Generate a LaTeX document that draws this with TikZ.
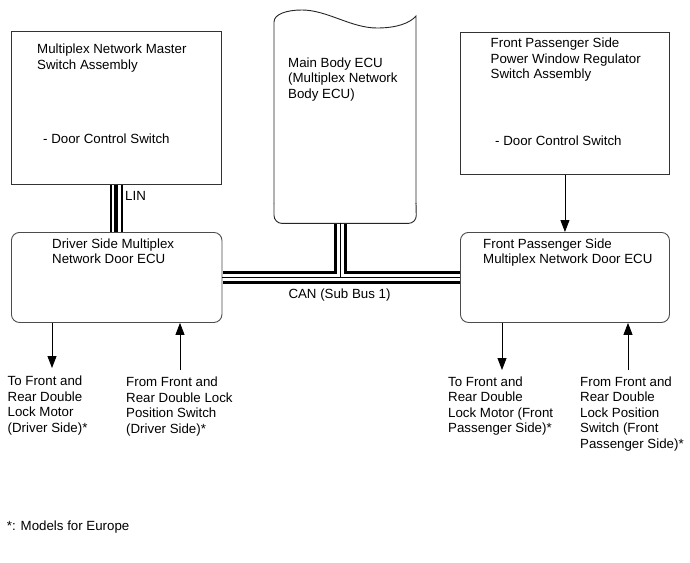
\documentclass[tikz,border=0pt]{standalone}
\usepackage{fontspec}
\setmainfont{Liberation Sans}
\usetikzlibrary{arrows.meta}
\begin{document}
\begin{tikzpicture}[x=1pt,y=-1pt,
  box/.style={draw=black!80, line width=0.9pt, rectangle, inner sep=0pt, anchor=north west},
  ecu/.style={box, draw=black!70, rounded corners=8pt},
  txt/.style={anchor=north west, inner sep=0pt, align=left, font=\fontsize{13.3}{15.5}\selectfont},
  arr/.style={draw=black, line width=0.9pt, -{Triangle[length=12pt,width=9pt]}},
  busouter/.style={line width=13pt, black, shorten <=0.5pt, shorten >=0.5pt},
  businner/.style={line width=7pt, white, shorten <=0.5pt, shorten >=0.5pt},
  buscore/.style={line width=1pt, black},
  linouter/.style={line width=12.5pt, black, shorten <=0.5pt, shorten >=0.5pt},
  lininner/.style={line width=9pt, white, shorten <=0.5pt, shorten >=0.5pt},
  lincore/.style={line width=4pt, black},
]
\useasboundingbox[fill=white] (0,0) rectangle (690,562);

% boxes
\node[box, minimum width=210pt, minimum height=153pt] (A) at (11,31) {};
\node[box, minimum width=209pt, minimum height=142pt] (B) at (460,32) {};
\node[ecu, minimum width=210.5pt, minimum height=90pt] (D) at (11,232) {};
\node[ecu, minimum width=209pt, minimum height=90pt] (E) at (460,232) {};
\node[inner sep=0pt, minimum width=142pt, minimum height=213pt, anchor=north west] (C) at (274,10) {};

% main body ECU outline (wavy top)
\draw[draw=black!85, line width=0.9pt] (C.south west) ++(0,-20) -- (274,22)
  .. controls (274,14) and (287,10) .. (302,10)
  .. controls (327,10) and (351,28) .. (377,28)
  .. controls (397,28) and (410,23) .. (416,16) -- (416,204);
\draw[draw=black!85, line width=0.9pt, rounded corners=8pt] (416,203) -- (C.south east) -- (C.south west) -- (274,203);

% CAN bus
\coordinate (cj) at (340.5,277);
\draw[busouter] (D.east |- cj) -- (E.west |- cj);
\draw[busouter] (cj |- C.south) -- (cj);
\draw[businner] (D.east |- cj) -- (E.west |- cj);
\draw[businner] (cj |- C.south) -- (cj);
\draw[buscore] (D.east |- cj) -- (E.west |- cj);
\draw[buscore] (cj |- C.south) -- (cj);

% LIN bus
\coordinate (lx) at (116.3,0);
\draw[linouter] (lx |- A.south) -- (lx |- D.north);
\draw[lininner] (lx |- A.south) -- (lx |- D.north);
\draw[lincore] (lx |- A.south) -- (lx |- D.north);

% arrows
\draw[arr] (B.south) -- (E.north);
\coordinate (d1) at (52,368);
\coordinate (d2) at (180,370);
\coordinate (e1) at (502,370);
\coordinate (e2) at (628,370);
\draw[arr] (d1 |- D.south) -- (d1);
\draw[arr] (d2) -- (d2 |- D.south);
\draw[arr] (e1 |- E.south) -- (e1);
\draw[arr] (e2) -- (e2 |- E.south);

% texts
\node[txt] (tA) at (37,43.8) {Multiplex Network Master\\Switch Assembly};
\node[txt] (tA2) at (43,133.8) {- Door Control Switch};
\node[txt] (tC) at (288,57.2) {Main Body ECU\\(Multiplex Network\\Body ECU)};
\node[txt] (tB) at (490.5,37.8) {Front Passenger Side\\Power Window Regulator\\Switch Assembly};
\node[txt] (tB2) at (495,135.5) {- Door Control Switch};
\node[txt] (tD) at (52,238.5) {Driver Side Multiplex\\Network Door ECU};
\node[txt] (tE) at (483,238.5) {Front Passenger Side\\Multiplex Network Door ECU};
\node[txt] (lin) at (125,191.5) {LIN};
\node[txt] (can) at (288.3,288.5) {CAN (Sub Bus 1)};
\node[txt] (o1) at (7.5,376) {To Front and\\Rear Double\\Lock Motor\\(Driver Side)*};
\node[txt] (o2) at (126,377) {From Front and\\Rear Double Lock\\Position Switch\\(Driver Side)*};
\node[txt] (o3) at (448,376.5) {To Front and\\Rear Double\\Lock Motor (Front\\Passenger Side)*};
\node[txt] (o4) at (580,376.5) {From Front and\\Rear Double\\Lock Position\\Switch (Front\\Passenger Side)*};
\node[txt] (fn) at (6.7,520.5) {*: Models for Europe};
\end{tikzpicture}
\end{document}
